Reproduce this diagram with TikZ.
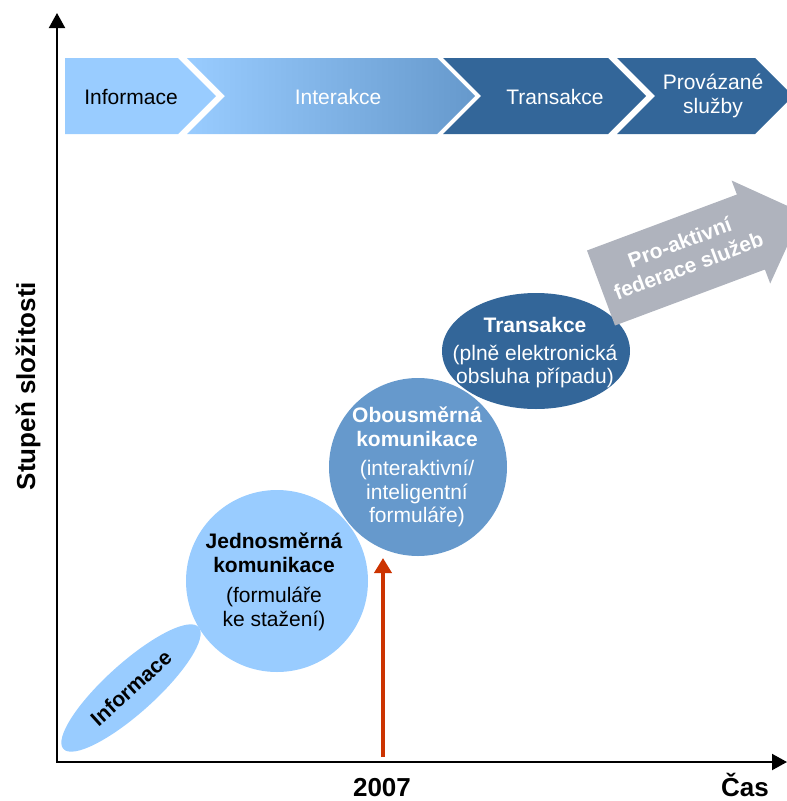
\documentclass[tikz,border=0pt]{standalone}
\usepackage{fontspec}
\setmainfont{Liberation Sans}
\usetikzlibrary{shapes.geometric,arrows.meta}
\definecolor{lightb}{HTML}{99CCFF}
\definecolor{midb}{HTML}{6699CC}
\definecolor{darkb}{HTML}{336699}
\definecolor{grayarr}{HTML}{AFB3BD}
\definecolor{redarr}{HTML}{CC3300}
\tikzset{
  txt/.style={font=\fontsize{21}{23.5}\selectfont, align=center, inner sep=0pt},
  btxt/.style={font=\bfseries\fontsize{21}{23.5}\selectfont, align=center, inner sep=0pt},
  axlabel/.style={font=\bfseries\fontsize{26}{30}\selectfont, inner sep=0pt},
  axis/.style={line width=2pt, -{Triangle[length=15pt,width=16pt]}},
  blob/.style={draw=none, inner sep=0pt},
}
\begin{document}
\begin{tikzpicture}[x=1pt,y=-1pt]
\useasboundingbox (0,0) rectangle (787,801);

% ---- header chevrons
\fill[lightb] (65,58) -- (178,58) -- (216,96) -- (178,134) -- (65,134) -- cycle;
\shade[left color=lightb, middle color=lightb!80!midb, right color=midb] (187,58) -- (437,58) -- (475,96) -- (437,134) -- (187,134) -- (225,96) -- cycle;
\fill[darkb] (443,58) -- (608,58) -- (646,96) -- (608,134) -- (443,134) -- (481,96) -- cycle;
\fill[darkb] (617,58) -- (755,58) -- (793,96) -- (755,134) -- (617,134) -- (655,96) -- cycle;

\node[txt, text=black] (hinf) at (131,97) {Informace};
\node[txt, text=white] (hint) at (338,97) {Interakce};
\node[txt, text=white] (htra) at (555,97) {Transakce};
\node[txt, text=white] (hpro) at (713,96) {Provázané\\služby};

% ---- axes
\coordinate (O) at (57,762);
\coordinate (Ytop) at (57,13);
\coordinate (Xend) at (787,762);
\draw[axis] (O) -- (Ytop);
\draw[axis] ([xshift=-1pt]O) -- (Xend);

\node[axlabel, rotate=90] (ylab) at (28,386) {Stupeň složitosti};
\node[axlabel, anchor=base] (y2007) at (382,796) {2007};
\node[axlabel, anchor=base] (cas) at (745,796) {Čas};

% ---- stages
\node[blob, ellipse, fill=darkb, minimum width=188, minimum height=116] (etra) at (536,351) {};
\node[blob, circle, fill=midb, minimum size=178] (cobo) at (418,467) {};
\node[blob, circle, fill=lightb, minimum size=182] (cjed) at (277,581) {};
\node[blob, ellipse, fill=lightb, minimum width=182, minimum height=50, rotate=42] (einf) at (131,688) {};

\node[btxt, rotate=42, text=black] (tinf) at (131,688) {Informace};
\node[txt, text=black] (tjed) at (274,582) {\textbf{Jednosměrná}\\\textbf{komunikace}\\[7pt](formuláře\\ke stažení)};
\node[txt, text=white] (tobo) at (417,467) {\textbf{Obousměrná}\\\textbf{komunikace}\\[6pt](interaktivní/\\inteligentní\\formuláře)};
\node[txt, text=white] (ttra) at (535,353) {\textbf{Transakce}\\[4pt](plně elektronická\\obsluha případu)};

% ---- grey arrow
\fill[grayarr] (587,250.5) -- (736.9,194.5) -- (731.6,180.5) -- (802.4,212.7) -- (770.2,283.5) -- (764.9,269.5) -- (615,325.5) -- cycle;
\node[btxt, rotate=20.5, text=white, font=\bfseries\fontsize{21}{25}\selectfont] (tpro) at (684,254) {Pro-aktivní\\federace služeb};

% ---- red arrow
\coordinate (r0) at (383,757);
\coordinate (r1) at (383,558);
\draw[redarr, line width=4.5pt, -{Triangle[length=15pt,width=17pt]}] (r0) -- (r1);
\end{tikzpicture}
\end{document}
